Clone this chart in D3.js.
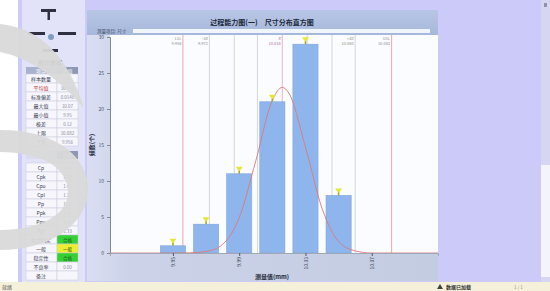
<!DOCTYPE html>
<html><head><meta charset="utf-8">
<script src="https://cdn.jsdelivr.net/npm/d3@7"></script>
<style>
html,body{margin:0;padding:0;background:#fff;overflow:hidden}
svg{display:block}
text{font-family:"Noto Sans CJK SC","Noto Sans",sans-serif}
</style>
</head><body>
<svg id="c" width="550" height="291"></svg>
<script>
// ---------- data ----------
const binCenters = [9.95, 9.97, 9.99, 10.01, 10.03, 10.05, 10.07];
const counts = [1, 4, 11, 21, 29, 8, 0];
const binWidth = 0.02;
const xTickValues = [9.95, 9.99, 10.03, 10.07];
const xTickLabels = ["9.95", "9.99", "10.03", "10.07"];
const yTickValues = [0, 5, 10, 15, 20, 25, 30];
const yTickLabels = ["0", "5", "10", "15", "20", "25", "30"];
const curveX = [9.912, 9.95, 9.96, 9.97, 9.98, 9.99, 10.00, 10.01, 10.016, 10.02, 10.03, 10.04, 10.05, 10.06, 10.07, 10.11];
const curveY = [0, 0, 0.02, 0.2, 1.2, 4.9, 12.8, 21.2, 23, 22.2, 14.7, 6.2, 1.6, 0.3, 0, 0];
const specNames = ["LSL", "USL"];
const specValues = [9.956, 10.082];
const meanValue = 10.016;
const sigmaLineValues = [9.972, 9.987, 10.001, 10.031, 10.046, 10.060];
const lineLabelNames = ["LSL", "-3σ", "X̄", "+3σ", "USL"];
const lineLabelValues = [9.956, 9.972, 10.016, 10.060, 10.082];
const statNames = ["样本数量", "平均值", "标准偏差", "最大值", "最小值", "极差", "上限", "下限"];
const statValues = ["74", "10.016", "0.0148", "10.07", "9.95", "0.12", "10.082", "9.956"];
const capNames = ["Cp", "Cpk", "Cpu", "Cpl", "Pp", "Ppk", "Ppu", "Ppl", "能力判定", "一般", "稳定性", "不良率", "备注"];
const capValues = ["1.41", "1.49", "1.49", "1.35", "1.38", "1.31", "1.46", "1.33", "合格", "一般", "合格", "0.00", ""];
const chartTitle = "过程能力图(一)　尺寸分布直方图";
const xTitle = "测量值(mm)";
const yTitle = "频数(个)";

// ---------- layout ----------
const svg = d3.select("#c");
const W = 550, H = 291;
const plot = {l: 110, r: 438, t: 35, b: 253};
const x = d3.scaleLinear().domain([9.912, 10.110]).range([plot.l, plot.r]);
const y = d3.scaleLinear().domain([0, 30]).range([plot.b, 37]);

const defs = svg.append("defs");
const g1 = defs.append("linearGradient").attr("id", "tbar").attr("x1", 0).attr("y1", 0).attr("x2", 0).attr("y2", 1);
g1.append("stop").attr("offset", 0).attr("stop-color", "#b8c6e6");
g1.append("stop").attr("offset", 1).attr("stop-color", "#a6b8da");
const g2 = defs.append("linearGradient").attr("id", "body").attr("x1", 0).attr("y1", 0).attr("x2", 1).attr("y2", 0);
g2.append("stop").attr("offset", 0).attr("stop-color", "#dadef2");
g2.append("stop").attr("offset", 0.12).attr("stop-color", "#ccd3e8");
g2.append("stop").attr("offset", 1).attr("stop-color", "#c4cce2");

// background
svg.append("rect").attr("width", W).attr("height", H).attr("fill", "#ffffff");
svg.append("rect").attr("x", 18).attr("y", 0).attr("width", 532).attr("height", 282).attr("fill", "#cccaf8");
// right scrollbar strip
svg.append("rect").attr("x", 541).attr("y", 0).attr("width", 9).attr("height", 282).attr("fill", "#d6d6f2");
svg.append("rect").attr("x", 541).attr("y", 165).attr("width", 9).attr("height", 112).attr("fill", "#f4f4fc");
svg.append("rect").attr("x", 544).attr("y", 3).attr("width", 3).attr("height", 4).attr("fill", "#9090b0");

// ---------- left panel ----------
const lp = svg.append("g");
lp.append("rect").attr("x", 22).attr("y", 0).attr("width", 63).attr("height", 282).attr("fill", "#e2e2f8");
// icons
lp.append("rect").attr("x", 41).attr("y", 9).attr("width", 15).attr("height", 3).attr("fill", "#303040");
lp.append("rect").attr("x", 47.5).attr("y", 9).attr("width", 2.5).attr("height", 11).attr("fill", "#303040");
lp.append("rect").attr("x", 28).attr("y", 32).attr("width", 17).attr("height", 3).attr("fill", "#303040");
lp.append("rect").attr("x", 58).attr("y", 32).attr("width", 18).attr("height", 3).attr("fill", "#303040");
lp.append("circle").attr("cx", 51).attr("cy", 37).attr("r", 3).attr("fill", "#7f9cc8");
lp.append("rect").attr("x", 43).attr("y", 49).attr("width", 15).attr("height", 3).attr("fill", "#303040");
// table
lp.append("text").attr("x", 50).attr("y", 65).attr("text-anchor", "middle").attr("font-size", 6).attr("font-weight", "bold").attr("fill", "#202030").text("统计数据");
lp.append("rect").attr("x", 26).attr("y", 67).attr("width", 31).attr("height", 7).attr("fill", "#a8b2cc");
lp.append("rect").attr("x", 57).attr("y", 67).attr("width", 21).attr("height", 7).attr("fill", "#8e98b4");
lp.append("text").attr("x", 41).attr("y", 72.5).attr("text-anchor", "middle").attr("font-size", 5).attr("fill", "#fff").text("项目");
lp.append("text").attr("x", 67.5).attr("y", 72.5).attr("text-anchor", "middle").attr("font-size", 5).attr("fill", "#fff").text("数值");
statNames.forEach((n, i) => {
  const yy = 74 + i * 9;
  lp.append("rect").attr("x", 26).attr("y", yy).attr("width", 31).attr("height", 9).attr("fill", "#f6f6fc").attr("stroke", "#c8c8dc").attr("stroke-width", 0.5);
  lp.append("rect").attr("x", 57).attr("y", yy).attr("width", 21).attr("height", 9).attr("fill", "#f6f6fc").attr("stroke", "#c8c8dc").attr("stroke-width", 0.5);
  lp.append("text").attr("x", 41).attr("y", yy + 6.5).attr("text-anchor", "middle").attr("font-size", 5).attr("fill", i === 1 ? "#c04040" : "#404050").text(n);
  lp.append("text").attr("x", 67.5).attr("y", yy + 6.5).attr("text-anchor", "middle").attr("font-size", 4.5).attr("fill", "#8a8a9a").text(statValues[i]);
});
lp.append("rect").attr("x", 26).attr("y", 151).attr("width", 31).attr("height", 8).attr("fill", "#d8dcec");
lp.append("rect").attr("x", 57).attr("y", 151).attr("width", 21).attr("height", 8).attr("fill", "#8e98b4");
lp.append("text").attr("x", 67.5).attr("y", 157).attr("text-anchor", "middle").attr("font-size", 5).attr("fill", "#fff").text("指数");
const cellColor = ["#34d034", "#eeee30", "#34d034"];
capNames.forEach((n, i) => {
  const yy = 163 + i * 9;
  lp.append("rect").attr("x", 26).attr("y", yy).attr("width", 31).attr("height", 9).attr("fill", "#f6f6fc").attr("stroke", "#c8c8dc").attr("stroke-width", 0.5);
  const c = (i >= 8 && i <= 10) ? cellColor[i - 8] : "#f6f6fc";
  lp.append("rect").attr("x", 57).attr("y", yy).attr("width", 21).attr("height", 9).attr("fill", c).attr("stroke", "#c8c8dc").attr("stroke-width", 0.5);
  lp.append("text").attr("x", 41).attr("y", yy + 6.5).attr("text-anchor", "middle").attr("font-size", 5).attr("fill", "#404050").text(n);
  lp.append("text").attr("x", 67.5).attr("y", yy + 6.5).attr("text-anchor", "middle").attr("font-size", 4.5).attr("fill", (i >= 8 && i <= 10) ? "#205020" : "#8a8a9a").text(capValues[i]);
});

// ---------- chart panel ----------
const cp = svg.append("g");
cp.append("rect").attr("x", 87).attr("y", 10).attr("width", plot.r - 87).attr("height", 271).attr("fill", "url(#body)");
cp.append("rect").attr("x", 87).attr("y", 10).attr("width", plot.r - 87).attr("height", 25).attr("fill", "url(#tbar)");
cp.append("text").attr("x", 262).attr("y", 24.5).attr("text-anchor", "middle").attr("font-size", 7).attr("font-weight", "bold").attr("fill", "#202838").text(chartTitle);
cp.append("rect").attr("x", 133).attr("y", 29).attr("width", 297).attr("height", 4).attr("fill", "#f0f4fc");
cp.append("text").attr("x", 97).attr("y", 33).attr("font-size", 4.5).attr("fill", "#404860").text("测量项目: 尺寸");
cp.append("rect").attr("x", plot.l).attr("y", plot.t).attr("width", plot.r - plot.l).attr("height", plot.b - plot.t).attr("fill", "#fbfcff");

// sigma lines
cp.selectAll(".sg").data(sigmaLineValues).join("line")
  .attr("x1", d => x(d)).attr("x2", d => x(d)).attr("y1", plot.t).attr("y2", plot.b)
  .attr("stroke", "#d6d6d6").attr("stroke-width", 1);
// spec lines
cp.selectAll(".sp").data(specValues).join("line")
  .attr("x1", d => x(d)).attr("x2", d => x(d)).attr("y1", plot.t).attr("y2", plot.b)
  .attr("stroke", "#eaa8a8").attr("stroke-width", 1);
// mean line
cp.append("line").attr("x1", x(meanValue)).attr("x2", x(meanValue)).attr("y1", plot.t).attr("y2", plot.b)
  .attr("stroke", "#eab4c8").attr("stroke-width", 1);
// line labels
lineLabelNames.forEach((n, i) => {
  const xx = x(lineLabelValues[i]) - 1.5;
  const col = n === "X̄" ? "#b070a0" : "#909090";
  cp.append("text").attr("x", xx).attr("y", 40).attr("text-anchor", "end").attr("font-size", 4).attr("fill", col).text(n);
  cp.append("text").attr("x", xx).attr("y", 44.5).attr("text-anchor", "end").attr("font-size", 4).attr("fill", col).text(lineLabelValues[i].toFixed(3));
});

// bars
const bw = x(binWidth) - x(0);
const bars = binCenters.map((c, i) => ({c, v: counts[i]})).filter(d => d.v > 0);
cp.selectAll(".bar").data(bars).join("rect")
  .attr("x", d => x(d.c) - bw / 2 + 4).attr("width", bw - 8)
  .attr("y", d => y(d.v)).attr("height", d => y(0) - y(d.v))
  .attr("fill", "#8fb6ec").attr("stroke", "#7ca4dc").attr("stroke-width", 0.6);

// curve
const line = d3.line().x(d => x(d[0])).y(d => y(d[1])).curve(d3.curveMonotoneX);
cp.append("path").datum(curveX.map((v, i) => [v, curveY[i]])).attr("d", line)
  .attr("fill", "none").attr("stroke", "#dc7878").attr("stroke-width", 0.9);

// markers on bars
bars.forEach(d => {
  const cx = x(d.c), ty = y(d.v);
  cp.append("path").attr("d", `M${cx - 3.5},${ty - 7} L${cx + 3.5},${ty - 7} L${cx},${ty - 2} Z`).attr("fill", "#e6e636");
  cp.append("rect").attr("x", cx - 0.8).attr("y", ty - 3).attr("width", 1.6).attr("height", 3).attr("fill", "#a8a830");
});

// axes
const yAxis = d3.axisLeft(y).tickValues(yTickValues).tickFormat((d, i) => yTickLabels[i]).tickSize(3);
const ya = cp.append("g").attr("transform", `translate(${plot.l},0)`).call(yAxis);
ya.select(".domain").attr("stroke", "#808890");
ya.selectAll(".tick line").attr("stroke", "#808890");
ya.selectAll(".tick text").attr("font-size", 5).attr("fill", "#505868").attr("font-family", "Noto Sans CJK SC");
const xAxis = d3.axisBottom(x).tickValues(xTickValues).tickFormat((d, i) => xTickLabels[i]).tickSize(3);
const xa = cp.append("g").attr("transform", `translate(0,${plot.b})`).call(xAxis);
xa.select(".domain").attr("stroke", "#a0a8b8");
xa.selectAll(".tick line").attr("stroke", "#505868");
xa.selectAll(".tick text").attr("font-size", 5).attr("fill", "#404858").attr("font-family", "Noto Sans CJK SC")
  .attr("transform", "rotate(-90)").attr("text-anchor", "end").attr("dy", "0.35em").attr("x", -4).attr("y", 0);
cp.append("text").attr("transform", `translate(94,145) rotate(-90)`).attr("text-anchor", "middle").attr("font-size", 6).attr("font-weight", "bold").attr("fill", "#202838").text(yTitle);
cp.append("text").attr("x", 272).attr("y", 279).attr("text-anchor", "middle").attr("font-size", 6).attr("font-weight", "bold").attr("fill", "#202838").text(xTitle);

// status bar
svg.append("rect").attr("x", 0).attr("y", 282).attr("width", W).attr("height", 9).attr("fill", "#f4f0da");
svg.append("text").attr("x", 2).attr("y", 289).attr("font-size", 5).attr("fill", "#505050").text("就绪");
svg.append("path").attr("d", "M437,289 L440,284 L443,289 Z").attr("fill", "#404040");
svg.append("text").attr("x", 446).attr("y", 289).attr("font-size", 5).attr("font-weight", "bold").attr("fill", "#303030").text("数据已加载");
svg.append("text").attr("x", 514).attr("y", 289).attr("font-size", 4.5).attr("fill", "#909090").text("1 / 1");

// watermark arcs
svg.append("path").attr("d", "M0,24 Q60,30 84,108 Q42,60 0,52 Z").attr("fill", "#d9d9d9").attr("opacity", 0.95);
svg.append("path").attr("d", "M0,130 C60,130 90,160 88,192 C86,225 50,250 0,250 L0,230 C40,230 68,215 68,192 C68,168 42,152 0,152 Z").attr("fill", "#d9d9d9").attr("opacity", 0.95);
</script>
</body></html>
